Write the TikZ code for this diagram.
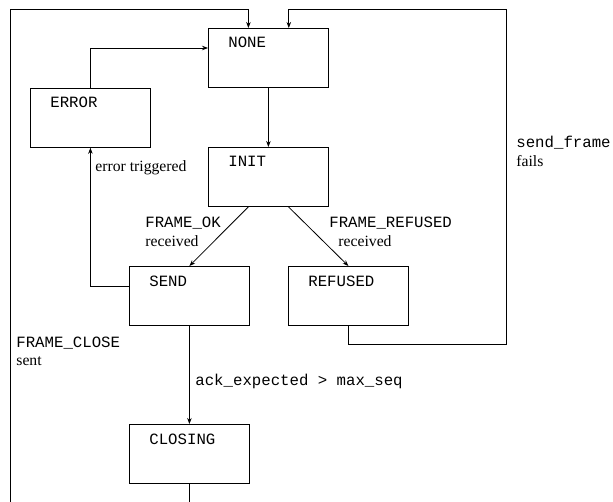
\documentclass[tikz,border=0pt]{standalone}
\usepackage{fontspec}
\setmainfont{Liberation Serif}
\setmonofont{Liberation Mono}
\usetikzlibrary{arrows.meta}

\begin{document}
\begin{tikzpicture}[x=1bp, y=-1bp, line width=0.8bp,
  font=\fontsize{15.7bp}{18.5bp}\selectfont,
  state/.style={draw, anchor=north west, inner sep=0pt, minimum width=120bp, minimum height=59bp},
  tag/.style={anchor=base west, inner sep=0pt, xshift=20bp, yshift=-20bp, font=\fontsize{15.7bp}{18.5bp}\selectfont\ttfamily},
  txt/.style={anchor=base west, align=left, inner sep=0pt},
  arr/.style={-{Stealth[length=6bp, width=4.5bp]}}]

\useasboundingbox (0,0) rectangle (613,502);

% states
\node[state, label={[tag]north west:NONE}] (none) at (208,28) {};
\node[state, label={[tag]north west:ERROR}] (error) at (30,88) {};
\node[state, label={[tag]north west:INIT}] (init) at (208,147) {};
\node[state, label={[tag]north west:SEND}] (send) at (129,266) {};
\node[state, label={[tag]north west:REFUSED}] (refused) at (288,266) {};
\node[state, label={[tag]north west:CLOSING}] (closing) at (129,424) {};

% loop corners
\coordinate (lb) at (10,504);
\coordinate (lt) at (10,9);
\coordinate (rt) at (506,9);

% transitions
\draw[arr] (none) -- (init);
\draw[arr] ([xshift=-20bp]init.south) -- (send.north);
\draw[arr] ([xshift=20bp]init.south) -- (refused.north);
\draw[arr] (error.north) |- ([yshift=-20bp]none.north west);
\draw[arr] ([yshift=-20bp]send.north west) -| (error.south);
\draw[arr] (send) -- (closing);
\draw[arr] (refused.south) -- ++(0,19) -| (rt) -| ([xshift=-40bp]none.north east);
\draw (closing.south) -- ++(0,20);
\draw[arr] (lb) -- (lt) -| ([xshift=-20bp]none.north);

% labels (base = last line)
\node[txt] (lerr) at (95,172) {error triggered};
\node[txt] (lok) at (145,246.5) {\texttt{FRAME\_OK}\\received};
\node[txt] (lref) at (329,246.5) {\texttt{FRAME\_REFUSED}\\\hspace{9bp}received};
\node[txt] (lfail) at (516,166.5) {\texttt{send\_frame}\\fails};
\node[txt] (lclose) at (16,365.5) {\texttt{FRAME\_CLOSE}\\sent};
\node[txt] (lack) at (195,385) {\texttt{ack\_expected > max\_seq}};

\end{tikzpicture}
\end{document}
